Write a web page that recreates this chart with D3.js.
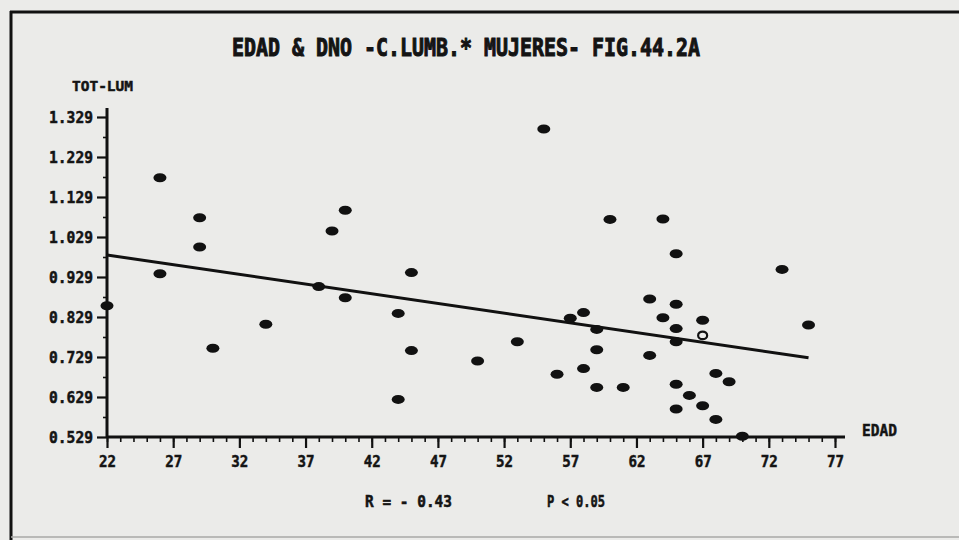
<!DOCTYPE html>
<html>
<head>
<meta charset="utf-8">
<script src="https://cdn.jsdelivr.net/npm/d3@7"></script>
<style>
    body { margin: 0; background: #ebebe9; }
    text { font-family: "DejaVu Sans Mono", monospace; font-weight: bold; fill: #141414; stroke: #141414; stroke-width: 0.5px; }
</style>
</head>
<body>
<div id="chart"></div>
<script>
// values
var edad = [22, 26, 26, 29, 29, 30, 34, 38, 39, 40, 40, 44, 44, 45, 45, 50,
    53, 55, 56, 57, 58, 58, 59, 59, 59, 60, 61, 63, 63, 64, 64,
    65, 65, 65, 65, 65, 65, 66, 67, 67, 67, 68, 68, 69, 70, 73, 75];
var totLum = [0.857, 1.177, 0.937, 1.077, 1.004, 0.751, 0.811, 0.905, 1.044, 1.096, 0.877, 0.838, 0.623, 0.940, 0.745, 0.719,
    0.767, 1.299, 0.686, 0.826, 0.840, 0.700, 0.798, 0.747, 0.653, 1.073, 0.653, 0.874, 0.733, 1.074, 0.827,
    0.987, 0.861, 0.800, 0.767, 0.661, 0.599, 0.633, 0.821, 0.783, 0.607, 0.688, 0.573, 0.667, 0.531, 0.948, 0.809];
// the one marker printed as a ring
var hollowPoint = [39];

var xTicks = [22, 27, 32, 37, 42, 47, 52, 57, 62, 67, 72, 77];
var yTicks = [0.529, 0.629, 0.729, 0.829, 0.929, 1.029, 1.129, 1.229, 1.329];
var yMinor = [0.579, 0.679, 0.779, 0.879, 0.979, 1.079, 1.179, 1.279];

// regression line ends
var fitEdad = [22, 75];
var fitLum = [0.984, 0.727];

var titleText = "EDAD & DNO -C.LUMB.* MUJERES- FIG.44.2A";
var statR = "R = - 0.43";
var statP = "P < 0.05";

var width = 959,
    height = 540;
var margin = { top: 117, left: 107 },
    plotW = 728,
    plotH = 320;

var svg = d3.select("#chart")
    .append("svg")
    .attr("width", width)
    .attr("height", height);

// page frame
svg.append("line")
    .attr("x1", 10).attr("x2", width).attr("y1", 12).attr("y2", 12)
    .style("stroke", "#111").style("stroke-width", 3);
svg.append("line")
    .attr("x1", 11).attr("x2", 11).attr("y1", 11).attr("y2", height)
    .style("stroke", "#111").style("stroke-width", 3);
svg.append("line")
    .attr("x1", 11).attr("x2", width).attr("y1", 537).attr("y2", 537)
    .style("stroke", "#a8a8a6").style("stroke-width", 1.5);

var x = d3.scaleLinear()
    .domain([22, 77])
    .range([margin.left, margin.left + plotW]);

var y = d3.scaleLinear()
    .domain([0.529, 1.329])
    .range([margin.top + plotH, margin.top]);

// minor ticks, every year
svg.append("g")
    .attr("transform", "translate(0," + y(0.529) + ")")
    .call(d3.axisBottom(x).tickValues(d3.range(22, 78)).tickSize(5).tickFormat(""))
    .call(function (g) { g.select(".domain").remove(); })
    .selectAll("line").style("stroke", "#111").style("stroke-width", 1.6);

svg.append("g")
    .attr("transform", "translate(" + x(22) + ",0)")
    .call(d3.axisLeft(y).tickValues(yMinor).tickSize(4).tickFormat(""))
    .call(function (g) { g.select(".domain").remove(); })
    .selectAll("line").style("stroke", "#111").style("stroke-width", 1.6);

// major ticks + labels
var xAxis = svg.append("g")
    .attr("transform", "translate(0," + y(0.529) + ")")
    .call(d3.axisBottom(x).tickValues(xTicks).tickSize(11).tickPadding(8).tickFormat(d3.format("d")));
xAxis.select(".domain").remove();
xAxis.selectAll("line").style("stroke", "#111").style("stroke-width", 2.2);
xAxis.selectAll("text")
    .style("font-size", "16px")
    .style("font-family", "'DejaVu Sans Mono', monospace")
    .style("font-weight", "bold")
    .attr("textLength", 17)
    .attr("lengthAdjust", "spacingAndGlyphs");

var yAxis = svg.append("g")
    .attr("transform", "translate(" + x(22) + ",0)")
    .call(d3.axisLeft(y).tickValues(yTicks).tickSize(10).tickPadding(4).tickFormat(d3.format(".3f")));
yAxis.select(".domain").remove();
yAxis.selectAll("line").style("stroke", "#111").style("stroke-width", 2.2);
yAxis.selectAll("text")
    .style("font-size", "16px")
    .style("font-family", "'DejaVu Sans Mono', monospace")
    .style("font-weight", "bold")
    .attr("textLength", 44)
    .attr("lengthAdjust", "spacingAndGlyphs");

// axis lines
svg.append("line")
    .attr("x1", x(22)).attr("x2", x(77) + 10)
    .attr("y1", y(0.529)).attr("y2", y(0.529))
    .style("stroke", "#111").style("stroke-width", 3);
svg.append("line")
    .attr("x1", x(22)).attr("x2", x(22))
    .attr("y1", y(0.529) + 1).attr("y2", y(1.329) - 9)
    .style("stroke", "#111").style("stroke-width", 3);

// regression line
var line = d3.line()
    .x(function (d) { return x(d[0]); })
    .y(function (d) { return y(d[1]); });
svg.append("path")
    .datum(d3.zip(fitEdad, fitLum))
    .attr("d", line)
    .style("fill", "none")
    .style("stroke", "#111")
    .style("stroke-width", 3);

// points
svg.append("g")
    .selectAll("ellipse")
    .data(d3.zip(edad, totLum))
    .enter()
    .append("ellipse")
    .attr("cx", function (d) { return x(d[0]); })
    .attr("cy", function (d) { return y(d[1]); })
    .attr("rx", function (d, i) { return hollowPoint.indexOf(i) >= 0 ? 4.5 : 6.5; })
    .attr("ry", function (d, i) { return hollowPoint.indexOf(i) >= 0 ? 3.8 : 4.5; })
    .style("fill", function (d, i) { return hollowPoint.indexOf(i) >= 0 ? "#ebebe9" : "#111"; })
    .style("stroke", "#111")
    .style("stroke-width", function (d, i) { return hollowPoint.indexOf(i) >= 0 ? 2.2 : 0; });

// texts
svg.append("text")
    .attr("x", 232).attr("y", 56)
    .attr("textLength", 468)
    .attr("lengthAdjust", "spacingAndGlyphs")
    .style("font-size", "24px")
    .style("stroke-width", "1px")
    .text(titleText);

svg.append("text")
    .attr("x", 72).attr("y", 91)
    .attr("textLength", 61)
    .attr("lengthAdjust", "spacingAndGlyphs")
    .style("font-size", "14px")
    .text("TOT-LUM");

svg.append("text")
    .attr("x", 862).attr("y", 436)
    .attr("textLength", 35)
    .attr("lengthAdjust", "spacingAndGlyphs")
    .style("font-size", "16px")
    .text("EDAD");

svg.append("text")
    .attr("x", 365).attr("y", 507)
    .attr("textLength", 87)
    .attr("lengthAdjust", "spacingAndGlyphs")
    .style("font-size", "15px")
    .text(statR);

svg.append("text")
    .attr("x", 547).attr("y", 507)
    .attr("textLength", 58)
    .attr("lengthAdjust", "spacingAndGlyphs")
    .style("font-size", "15px")
    .text(statP);
</script>
</body>
</html>
